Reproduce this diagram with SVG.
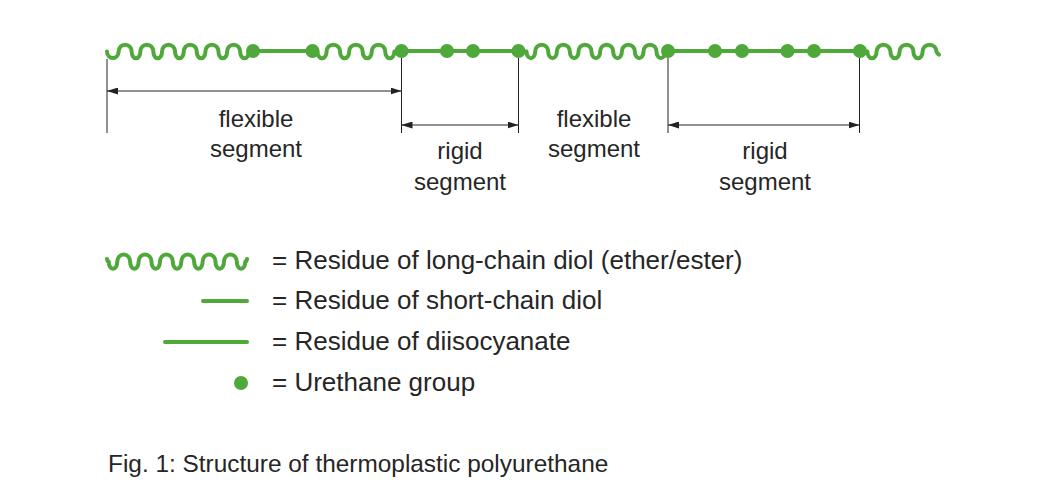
<svg xmlns="http://www.w3.org/2000/svg" width="1058" height="499" viewBox="0 0 1058 499">
<style>
.g{fill:none;stroke:#4fa83a;stroke-width:4;stroke-linecap:round;stroke-linejoin:round}
.d{fill:#4fa83a}
.t{stroke:#222;stroke-width:1;fill:none}
.a{stroke:#222;stroke-width:1;fill:none;marker-start:url(#ah);marker-end:url(#ah)}
text{font-family:"Liberation Sans",Arial,Helvetica,sans-serif;fill:#262626}
.lb{font-size:24px;text-anchor:middle}
.lg{font-size:26px}
.cap{font-size:24.4px}
</style>
<defs>
<marker id="ah" viewBox="0 0 11 7" refX="11" refY="3.5" markerWidth="11" markerHeight="7" markerUnits="userSpaceOnUse" orient="auto-start-reverse">
<path d="M0,0 L11,3.5 L0,7 Z" fill="#222"/>
</marker>
</defs>
<rect width="1058" height="499" fill="#fff"/>
<g id="chain">
<path class="g" d="M107,51.5 a5.83,6.8 0 0 0 11.65,0 a6.5,6.8 0 0 1 13,0 a4.35,6.8 0 0 0 8.7,0 a6.5,6.8 0 0 1 13,0 a4.35,6.8 0 0 0 8.7,0 a6.5,6.8 0 0 1 13,0 a4.35,6.8 0 0 0 8.7,0 a6.5,6.8 0 0 1 13,0 a4.35,6.8 0 0 0 8.7,0 a6.5,6.8 0 0 1 13,0 a4.35,6.8 0 0 0 8.7,0 a6.5,6.8 0 0 1 13,0 a4.35,6.8 0 0 0 8.7,0 L253,51"/>
<path class="g" d="M312.5,51 L317.45,51.5 a4.55,6.8 0 0 0 9.1,0 a6.75,6.8 0 0 1 13.5,0 a4.55,6.8 0 0 0 9.1,0 a6.75,6.8 0 0 1 13.5,0 a4.55,6.8 0 0 0 9.1,0 a6.75,6.8 0 0 1 13.5,0 a4.55,6.8 0 0 0 9.1,0 L401.5,51"/>
<path class="g" d="M519,51 L526.54,51.5 a4.33,6.8 0 0 0 8.66,0 a6.5,6.8 0 0 1 13,0 a4.33,6.8 0 0 0 8.66,0 a6.5,6.8 0 0 1 13,0 a4.33,6.8 0 0 0 8.66,0 a6.5,6.8 0 0 1 13,0 a4.33,6.8 0 0 0 8.66,0 a6.5,6.8 0 0 1 13,0 a4.33,6.8 0 0 0 8.66,0 a6.5,6.8 0 0 1 13,0 a4.33,6.8 0 0 0 8.66,0 a6.5,6.8 0 0 1 13,0 a4.33,6.8 0 0 0 8.66,0 L668,51"/>
<path class="g" d="M861,51 L867.4,51.5 a4.6,6.8 0 0 0 9.2,0 a6.9,6.8 0 0 1 13.8,0 a4.6,6.8 0 0 0 9.2,0 a6.9,6.8 0 0 1 13.8,0 a4.6,6.8 0 0 0 9.2,0 a6.9,6.8 0 0 1 13.8,0 q0.8,2 2.6,3.2"/>
<path class="g" d="M253,51 H312.5 M401,51 H519 M668,51 H861"/>
<g class="d">
<circle cx="253" cy="51" r="7"/><circle cx="312.5" cy="51" r="7"/><circle cx="401.5" cy="51" r="7"/>
<circle cx="447" cy="51" r="7"/><circle cx="473" cy="51" r="7"/><circle cx="518.5" cy="51" r="7"/>
<circle cx="668" cy="51" r="7"/><circle cx="715" cy="51" r="7"/><circle cx="742" cy="51" r="7"/>
<circle cx="787.5" cy="51" r="7"/><circle cx="814" cy="51" r="7"/><circle cx="860" cy="51" r="7"/>
</g>
</g>
<g id="connectors">
<path class="t" d="M107,59 V133 M401.5,58 V133 M518.5,58 V133 M668,58 V133 M859.5,58 V133"/>
<line class="a" x1="107" y1="91" x2="401.5" y2="91"/>
<line class="a" x1="401.5" y1="125" x2="518.5" y2="125"/>
<line class="a" x1="668" y1="125" x2="859.5" y2="125"/>
</g>
<g id="label-flexible-1"><text class="lb" x="256" y="127">flexible</text><text class="lb" x="256" y="157">segment</text></g>
<g id="label-rigid-1"><text class="lb" x="460" y="159">rigid</text><text class="lb" x="460" y="190">segment</text></g>
<g id="label-flexible-2"><text class="lb" x="594" y="127">flexible</text><text class="lb" x="594" y="157">segment</text></g>
<g id="label-rigid-2"><text class="lb" x="765" y="159">rigid</text><text class="lb" x="765" y="190">segment</text></g>
<g id="legend-long-chain-diol">
<path class="g" d="M107,259 Q107.5,261.6 108.7,261.6 a4.3,7.2 0 0 0 8.6,0 a6.4,7.2 0 0 1 12.8,0 a4.27,7.2 0 0 0 8.54,0 a6.4,7.2 0 0 1 12.8,0 a4.27,7.2 0 0 0 8.54,0 a6.4,7.2 0 0 1 12.8,0 a4.27,7.2 0 0 0 8.54,0 a6.4,7.2 0 0 1 12.8,0 a4.27,7.2 0 0 0 8.54,0 a6.4,7.2 0 0 1 12.8,0 a4.27,7.2 0 0 0 8.54,0 a6.4,7.2 0 0 1 12.8,0 a4.27,7.2 0 0 0 8.54,0 q1.2,0 1.7,-2.6"/>
<text class="lg" x="272" y="269">= Residue of long-chain diol (ether/ester)</text>
</g>
<g id="legend-short-chain-diol">
<path class="g" d="M203,301 H247"/>
<text class="lg" x="272" y="309">= Residue of short-chain diol</text>
</g>
<g id="legend-diisocyanate">
<path class="g" d="M165,342 H247"/>
<text class="lg" x="272" y="350">= Residue of diisocyanate</text>
</g>
<g id="legend-urethane">
<circle class="d" cx="241" cy="383" r="7"/>
<text class="lg" x="272" y="391">= Urethane group</text>
</g>
<g id="caption"><text class="cap" x="108" y="472">Fig. 1: Structure of thermoplastic polyurethane</text></g>
</svg>
